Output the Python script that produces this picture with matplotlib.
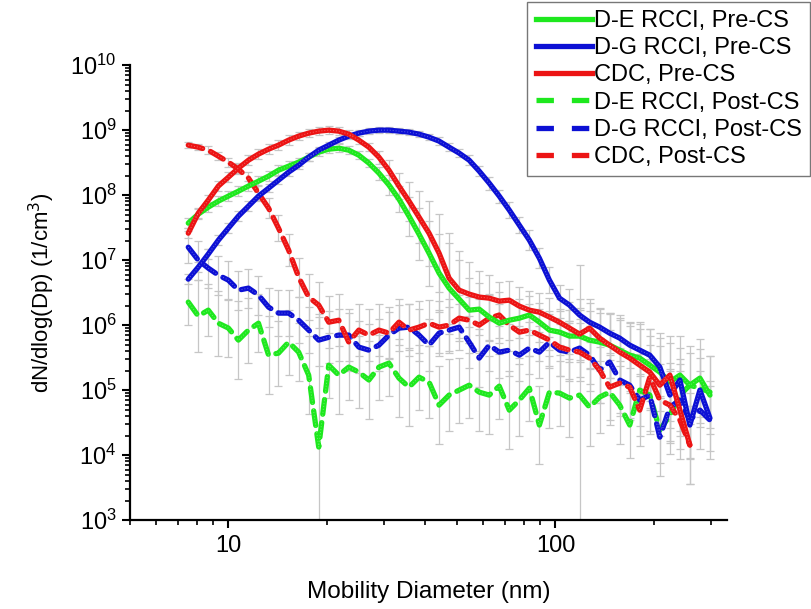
import numpy as np
import matplotlib
matplotlib.use("Agg")
import matplotlib.pyplot as plt
from matplotlib.lines import Line2D
from matplotlib.ticker import FuncFormatter, NullFormatter, LogLocator

plt.rcParams["font.family"] = ["Liberation Sans", "DejaVu Sans"]

# mobility diameter bins (nm)
diam = [7.54, 8.09, 8.68, 9.32, 10.0, 10.73, 11.52, 12.36, 13.27, 14.23, 15.28,
        16.40, 17.60, 18.89, 20.27, 21.75, 23.34, 25.05, 26.89, 28.86, 30.97,
        33.23, 35.66, 38.27, 41.07, 44.08, 47.30, 50.77, 54.48, 58.47, 62.74,
        67.33, 72.26, 77.55, 83.22, 89.31, 95.85, 102.9, 110.4, 118.5, 127.1,
        136.5, 146.4, 157.2, 168.7, 181.0, 194.3, 208.5, 223.8, 240.2, 257.6,
        276.5, 296.8]

de_pre = [3.71e7, 5.10e7, 6.53e7, 8.09e7, 9.66e7, 1.15e8, 1.38e8, 1.64e8, 1.96e8, 2.42e8,
          2.79e8, 3.22e8, 3.84e8, 4.59e8, 5.10e8, 5.28e8, 4.92e8, 4.12e8, 3.11e8, 2.18e8,
          1.43e8, 8.68e7, 4.75e7, 2.51e7, 1.28e7, 6.31e6, 3.71e6, 2.51e6, 1.70e6, 1.76e6,
          1.33e6, 1.07e6, 1.19e6, 1.28e6, 1.43e6, 1.11e6, 8.38e5, 7.80e5, 6.78e5, 6.78e5,
          5.88e5, 5.47e5, 4.92e5, 4.12e5, 3.45e5, 3.11e5, 2.42e5, 1.89e5, 1.33e5, 1.70e5,
          1.19e5, 1.53e5, 8.38e4]
dg_pre = [5.10e6, 7.80e6, 1.24e7, 2.03e7, 3.11e7, 4.75e7, 6.78e7, 9.66e7, 1.28e8, 1.70e8,
          2.26e8, 2.89e8, 3.84e8, 4.92e8, 5.88e8, 7.02e8, 8.09e8, 9.00e8, 9.66e8, 1.0e9,
          1.0e9, 9.66e8, 9.31e8, 8.68e8, 7.80e8, 6.78e8, 5.47e8, 4.43e8, 3.45e8, 2.34e8,
          1.53e8, 9.66e7, 5.88e7, 3.45e7, 2.03e7, 1.07e7, 4.92e6, 2.60e6, 2.03e6, 1.43e6,
          1.11e6, 9.31e5, 7.53e5, 6.31e5, 4.92e5, 4.12e5, 3.45e5, 2.26e5, 8.4e4, 1.43e5,
          2.9e4, 1.0e5, 3.7e4]
cdc_pre = [2.60e7, 5.28e7, 8.38e7, 1.38e8, 1.89e8, 2.60e8, 3.45e8, 4.28e8, 5.10e8, 5.88e8,
           7.02e8, 8.09e8, 9.00e8, 9.66e8, 1.0e9, 9.66e8, 8.68e8, 7.02e8, 5.47e8, 3.84e8,
           2.42e8, 1.38e8, 8.09e7, 4.59e7, 2.60e7, 1.28e7, 5.28e6, 3.45e6, 3.0e6, 2.70e6,
           2.60e6, 2.34e6, 2.42e6, 1.96e6, 1.70e6, 1.58e6, 1.33e6, 1.11e6, 9.0e5, 7.27e5,
           9.0e5, 6.31e5, 4.92e5, 3.84e5, 3.11e5, 2.42e5, 1.89e5, 1.19e5, 1.70e5, 4.92e4,
           1.43e4]

de_post = [2.26e6, 1.38e6, 1.70e6, 1.07e6, 9.0e5, 5.88e5, 8.38e5, 1.07e6, 3.45e5, 3.71e5,
           5.47e5, 3.84e5, 1.70e5, 1.33e4, 2.42e5, 1.70e5, 2.26e5, 1.89e5, 1.43e5, 2.26e5,
           2.60e5, 1.53e5, 1.11e5, 1.58e5, 1.33e5, 5.88e4, 8.38e4, 1.0e5, 1.19e5, 9.31e4,
           8.38e4, 1.15e5, 4.92e4, 7.02e4, 1.07e5, 2.90e4, 9.31e4, 9.0e4, 7.53e4, 8.38e4,
           5.47e4, 7.80e4, 9.31e4, 5.88e4, 2.90e4, 1.0e5, 8.38e4, 2.42e4, 4.12e4, 8.38e4,
           1.19e5, 1.07e5, 9.31e4]
dg_post = [1.58e7, 1.0e7, 7.53e6, 5.88e6, 4.92e6, 3.45e6, 3.71e6, 2.90e6, 1.89e6, 1.53e6,
           1.53e6, 1.19e6, 8.38e5, 5.88e5, 6.5e5, 7.02e5, 7.02e5, 4.59e5, 4.12e5, 4.92e5,
           7.02e5, 9.0e5, 9.31e5, 7.02e5, 4.92e5, 7.53e5, 8.38e5, 9.31e5, 5.47e5, 3.11e5,
           4.92e5, 3.84e5, 4.12e5, 3.45e5, 4.43e5, 3.84e5, 5.47e5, 4.12e5, 3.84e5, 4.43e5,
           3.45e5, 2.03e5, 2.70e5, 1.43e5, 1.19e5, 7.02e4, 8.38e4, 1.89e4, 5.47e4, 7.02e4,
           3.45e4, 4.92e4, 3.45e4]
cdc_post = [5.88e8, 5.47e8, 4.92e8, 3.98e8, 3.22e8, 2.51e8, 1.83e8, 1.07e8, 6.31e7, 3.11e7,
            1.43e7, 5.47e6, 2.70e6, 2.03e6, 1.11e6, 1.19e6, 5.47e5, 8.38e5, 7.02e5, 8.38e5,
            7.53e5, 1.11e6, 8.38e5, 9.31e5, 1.07e6, 9.31e5, 1.0e6, 1.28e6, 1.19e6, 1.0e6,
            1.28e6, 1.43e6, 1.0e6, 7.80e5, 8.38e5, 7.02e5, 5.88e5, 4.59e5, 4.12e5, 3.84e5,
            3.11e5, 2.03e5, 1.11e5, 1.28e5, 1.11e5, 4.92e4, 1.58e5, 7.02e4, 5.88e4, 3.45e4,
            1.43e4]

# error bar half-widths, in decades
err_pre = [0.08, 0.08, 0.08, 0.08, 0.08, 0.08, 0.08, 0.08, 0.08, 0.08, 0.08,
           0.06, 0.06, 0.06, 0.06, 0.06, 0.06, 0.06, 0.06, 0.1, 0.15, 0.2,
           0.3, 0.4, 0.5, 0.6, 0.7, 0.6, 0.5, 0.4, 0.35, 0.3, 0.3, 0.3, 0.3,
           0.3, 0.3, 0.35, 0.4, 0.4, 0.45, 0.45, 0.5, 0.5, 0.5, 0.55, 0.55,
           0.6, 0.6, 0.6, 0.6, 0.6, 0.6]
err_dg_pre = [0.08, 0.08, 0.08, 0.08, 0.08, 0.08, 0.08, 0.06, 0.06, 0.06, 0.06,
              0.06, 0.06, 0.05, 0.05, 0.05, 0.05, 0.05, 0.05, 0.05, 0.05, 0.05,
              0.05, 0.05, 0.05, 0.06, 0.06, 0.06, 0.08, 0.08, 0.1, 0.1, 0.12, 0.12,
              0.15, 0.15, 0.2, 0.2, 0.25, 0.25, 0.3, 0.3, 0.3, 0.35, 0.35, 0.4,
              0.4, 0.45, 0.5, 0.5, 0.5, 0.5, 0.5]
err_de_post = [0.35, 0.55, 0.4, 0.5, 0.45, 0.6, 0.5, 0.45, 0.6, 0.5, 0.5, 0.45,
               0.6, 2.0, 0.5, 0.6, 0.5, 0.55, 0.6, 0.5, 0.5, 0.6, 0.6, 0.5, 0.55,
               0.6, 0.55, 0.5, 0.5, 0.6, 0.6, 0.5, 0.6, 0.55, 0.5, 0.6, 0.55,
               0.5, 0.6, 2.0, 0.6, 0.55, 0.5, 0.6, 0.5, 0.55, 0.6, 0.5, 0.6, 0.55,
               0.5, 0.6, 0.55]
err_dg_post = [0.25, 0.3, 0.3, 0.3, 0.3, 0.3, 0.3, 0.3, 0.3, 0.35, 0.35, 0.35,
               0.35, 0.4, 0.4, 0.4, 0.4, 0.4, 0.4, 0.4, 0.35, 0.35, 0.35, 0.4,
               0.4, 0.35, 0.35, 0.35, 0.4, 0.45, 0.4, 0.4, 0.4, 0.4, 0.4, 0.4,
               0.4, 0.4, 0.45, 0.45, 0.45, 0.5, 0.5, 0.5, 0.5, 0.55, 0.55, 0.6,
               0.55, 0.55, 0.6, 0.6, 0.6]
err_cdc_post = [0.05, 0.05, 0.06, 0.06, 0.07, 0.08, 0.1, 0.12, 0.15, 0.2, 0.25,
                0.3, 0.35, 0.35, 0.4, 0.4, 0.45, 0.4, 0.4, 0.4, 0.4, 0.35, 0.4,
                0.4, 0.35, 0.4, 0.4, 0.35, 0.35, 0.4, 0.35, 0.35, 0.4, 0.4, 0.4,
                0.4, 0.4, 0.45, 0.45, 0.45, 0.5, 0.5, 0.5, 0.5, 0.5, 0.55, 0.5,
                0.55, 0.55, 0.6, 0.6]

GREEN = "#1ee81e"
BLUE = "#0c10d4"
RED = "#ec1414"
LW = 3.8

series = [
    (de_pre, err_pre, GREEN, "-", "D-E RCCI, Pre-CS"),
    (dg_pre, err_dg_pre, BLUE, "-", "D-G RCCI, Pre-CS"),
    (cdc_pre, err_pre, RED, "-", "CDC, Pre-CS"),
    (de_post, err_de_post, GREEN, "--", "D-E RCCI, Post-CS"),
    (dg_post, err_dg_post, BLUE, "--", "D-G RCCI, Post-CS"),
    (cdc_post, err_cdc_post, RED, "--", "CDC, Post-CS"),
]

fig = plt.figure(figsize=(8.12, 6.09), dpi=100)
ax = fig.add_axes([0.160, 0.146, 0.735, 0.747])

# gray error bars first
for vals, err, col, ls, lab in series:
    y = np.array(vals)
    x = np.array(diam[:len(y)])
    e = np.array(err[:len(y)])
    lo = y - y * 10 ** (-e)
    hi = y * 10 ** e - y
    ax.errorbar(x, y, yerr=[lo, hi], fmt="none", ecolor="#c6c6c6",
                elinewidth=0.9, capsize=3, capthick=0.9, zorder=1)

handles = []
for i, (vals, err, col, ls, lab) in enumerate(series):
    x = diam[:len(vals)]
    if ls == "-":
        ax.plot(x, vals, color=col, lw=LW, solid_capstyle="round", zorder=3)
        handles.append(Line2D([], [], color=col, lw=LW))
    else:
        ax.plot(x, vals, color=col, lw=LW, dashes=(2.8, 1.6),
                dash_capstyle="round", zorder=2)
        handles.append(Line2D([], [], color=col, lw=LW, dashes=(3.3, 3.4)))
    # speckled white overlay like the original marker-drawn curves
    ax.plot(x, vals, color="white", lw=0.7, alpha=0.35,
            linestyle=(0, (1, 2)), zorder=4 if ls == "-" else 2.5)

ax.set_xscale("log")
ax.set_yscale("log")
ax.set_xlim(5, 334)
ax.set_ylim(1e3, 1e10)

ax.xaxis.set_major_formatter(FuncFormatter(lambda v, p: f"{v:g}"))
ax.xaxis.set_minor_formatter(NullFormatter())
ax.yaxis.set_major_locator(LogLocator(base=10, numticks=10))
ax.yaxis.set_minor_locator(LogLocator(base=10, subs=np.arange(2, 10), numticks=20))
ax.yaxis.set_minor_formatter(NullFormatter())

for s in ["top", "right"]:
    ax.spines[s].set_visible(False)
for s in ["left", "bottom"]:
    ax.spines[s].set_linewidth(1.6)

ax.tick_params(which="major", direction="out", length=6, width=1.5, labelsize=17)
ax.tick_params(which="minor", direction="out", length=3.5, width=1.2)
ax.tick_params(axis="x", which="major", pad=5)

ax.set_xlabel("Mobility Diameter (nm)", fontsize=17.5, labelpad=17)
ax.set_ylabel("dN/dlog(Dp) (1/cm$^3$)", fontsize=16, labelpad=10)

leg = fig.legend(handles, [s[4] for s in series], loc="upper right",
                 bbox_to_anchor=(0.998, 0.997), fontsize=17, frameon=True,
                 fancybox=False, handlelength=2.4, handletextpad=0.08,
                 labelspacing=0.22, borderpad=0.35, borderaxespad=0)
leg.get_frame().set_edgecolor("#555555")
leg.get_frame().set_linewidth(1.0)

fig.savefig("out.png", dpi=100)
